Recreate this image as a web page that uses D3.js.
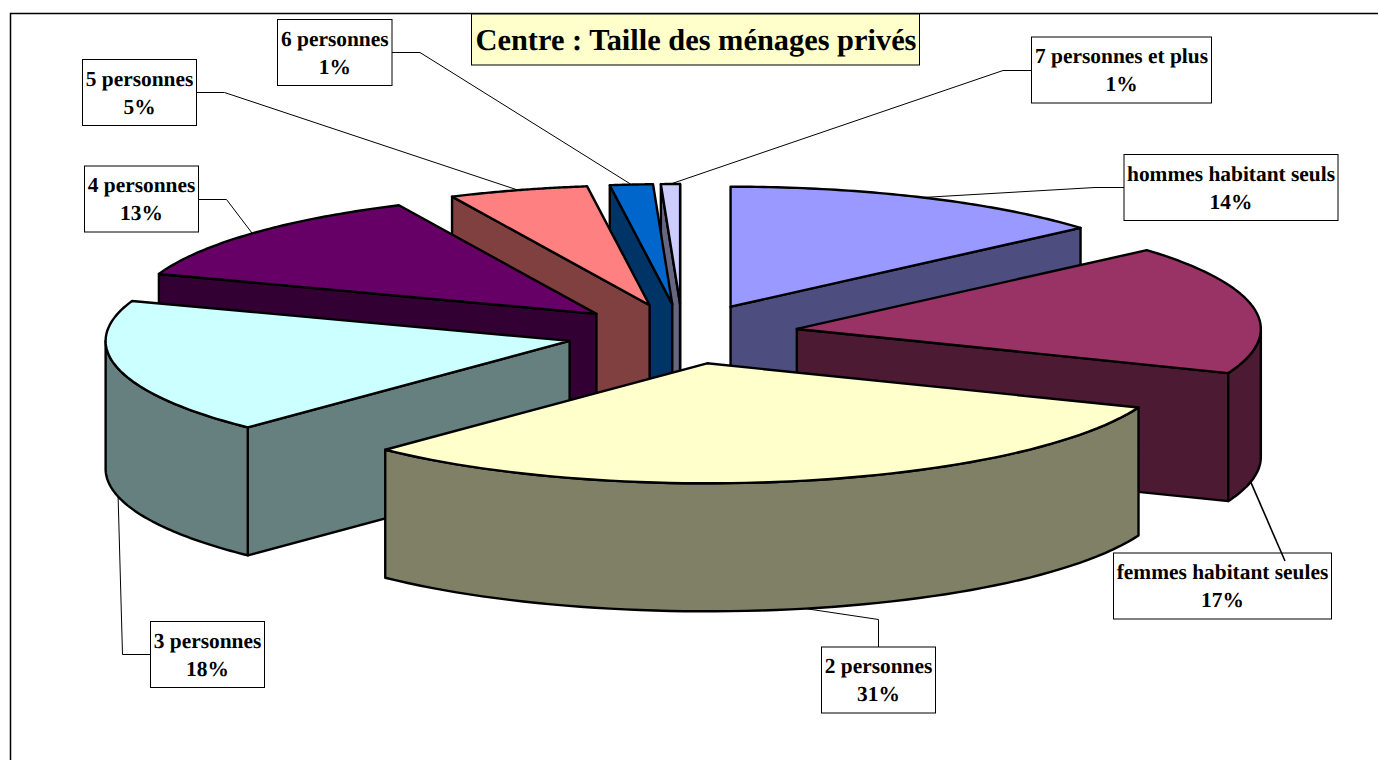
<!DOCTYPE html>
<html><head><meta charset="utf-8">
<script src="https://cdn.jsdelivr.net/npm/d3@7/dist/d3.min.js"></script>
<style>html,body{margin:0;padding:0;background:#fff;overflow:hidden}svg{display:block}text{font-family:"Liberation Serif","Times New Roman",serif;font-weight:bold;fill:#000;text-rendering:geometricPrecision}</style>
</head><body>
<script>
// Data
const chartTitle = "Centre : Taille des ménages privés";
const categories = ["hommes habitant seuls","femmes habitant seules","2 personnes","3 personnes","4 personnes","5 personnes","6 personnes","7 personnes et plus"];
const shares = [13.6,17.4,31.2,18.2,12.6,4.85,1.49,0.66];
const percentLabels = ["14%","17%","31%","18%","13%","5%","1%","1%"];

// Styles
const topColors = ["#9999ff","#993366","#ffffcc","#ccffff","#660066","#ff8080","#0066cc","#ccccff"];

// Layout of the label boxes (box x0,y0,x1,y1, elbow point, side the leader leaves from, rim angle override)
const boxes = [
  {x0:1124,y0:154.5,x1:1338,y1:220.5,lead:[1124,187.5],elbow:[1095,187.5]},
  {x0:1113.5,y0:553,x1:1331.5,y1:619,lead:[1285,561],elbow:null,rimDeg:102,leadWidth:1.6},
  {x0:821.5,y0:647,x1:935.5,y1:713,lead:[878.5,647],elbow:[878.5,619.5]},
  {x0:150.5,y0:621.5,x1:264.5,y1:687.5,lead:[150.5,654.5],elbow:[122.5,654.5]},
  {x0:84.5,y0:166,x1:198.5,y1:232,lead:[198.5,199.5],elbow:[226.5,199.5]},
  {x0:82.5,y0:59.5,x1:196.5,y1:125.5,lead:[196.5,92.5],elbow:[224.5,92.5]},
  {x0:277.5,y0:19.5,x1:392,y1:85.5,lead:[392,52.5],elbow:[420,52.5]},
  {x0:1031.5,y0:37,x1:1211.5,y1:103,lead:[1031.5,70.5],elbow:[1003,70.5]}
];

const W=1378,H=760;
const cx=682.5, cy=334, rx=464, ry=120, depth=128, explode=0.25;
const sx=d3.scaleLinear().domain([-1,1]).range([cx-rx,cx+rx]);
const sy=d3.scaleLinear().domain([-1,1]).range([cy-ry,cy+ry]);

const svg=d3.select("body").append("svg").attr("width",W).attr("height",H);
svg.append("rect").attr("width",W).attr("height",H).attr("fill","#fff");
svg.append("path").attr("d",`M10.5,${H}V13.5H${W}`).attr("fill","none").attr("stroke","#000").attr("stroke-width",1.5);

const arcs=d3.pie().sort(null).startAngle(0).endAngle(2*Math.PI)(shares);
const line=d3.line();
const slices=arcs.map((a,i)=>{
  const mid=(a.startAngle+a.endAngle)/2;
  const ox=explode*Math.sin(mid), oy=-explode*Math.cos(mid);
  const pt=(ang,dz=0)=>[sx(ox+Math.sin(ang)),sy(oy-Math.cos(ang))+dz];
  const apex=(dz=0)=>[sx(ox),sy(oy)+dz];
  const range=(a0,a1)=>d3.range(0,61).map(k=>a0+(a1-a0)*k/60);
  return {i,a,mid,pt,apex,range,oy};
});
const sorted=slices.slice().sort((p,q)=>d3.ascending(p.oy,q.oy));

const gPie=svg.append("g").attr("stroke","#000").attr("stroke-width",2.4).attr("stroke-linejoin","round");
const PI=Math.PI;
sorted.forEach(s=>{
  const g=gPie.append("g").attr("class","slice");
  const col=d3.rgb(topColors[s.i]);
  const dark=d3.rgb(col.r/2,col.g/2,col.b/2).formatHex();
  const a0=s.a.startAngle,a1=s.a.endAngle;
  // radial walls that face the viewer
  [[a0,Math.sin(a0)<0],[a1,Math.sin(a1)>0]].forEach(([ang,vis])=>{
    if(!vis)return;
    g.append("path").attr("fill",dark)
     .attr("d",line([s.apex(),s.pt(ang),s.pt(ang,depth),s.apex(depth)])+"Z");
  });
  // outer wall
  const r0=Math.max(a0,PI/2), r1=Math.min(a1,3*PI/2);
  if(r1>r0){
    const angs=s.range(r0,r1);
    g.append("path").attr("fill",dark)
     .attr("d",line(angs.map(t=>s.pt(t)).concat(angs.slice().reverse().map(t=>s.pt(t,depth))))+"Z");
  }
  // top face
  g.append("path").attr("fill",col.formatHex())
   .attr("d",line([s.apex()].concat(s.range(a0,a1).map(t=>s.pt(t))))+"Z");
});

// Title
svg.append("rect").attr("x",471.5).attr("y",14).attr("width",448).attr("height",51)
   .attr("fill","#ffffcc").attr("stroke","#000").attr("stroke-width",1);
svg.append("text").attr("x",696).attr("y",50).attr("text-anchor","middle")
   .attr("font-size",30.4).text(chartTitle);

// Labels
const gLab=svg.append("g");
slices.forEach(s=>{
  const b=boxes[s.i];
  gLab.append("rect").attr("x",b.x0).attr("y",b.y0).attr("width",b.x1-b.x0).attr("height",b.y1-b.y0)
     .attr("fill","#fff").attr("stroke","#000").attr("stroke-width",1);
  const ang=b.rimDeg!==undefined?b.rimDeg*PI/180:s.mid;
  const end=s.pt(ang,Math.cos(ang)<0?depth:0);
  const pts=[b.lead].concat(b.elbow?[b.elbow]:[],[end]);
  gLab.append("path").attr("fill","none").attr("stroke","#000").attr("stroke-width",b.leadWidth||1).attr("d",line(pts));
  const tx=(b.x0+b.x1)/2;
  gLab.append("text").attr("x",tx).attr("y",b.y0+26).attr("text-anchor","middle").attr("font-size",21.4).text(categories[s.i]);
  gLab.append("text").attr("x",tx).attr("y",b.y0+54).attr("text-anchor","middle").attr("font-size",21.4).text(percentLabels[s.i]);
});
</script>
</body></html>
